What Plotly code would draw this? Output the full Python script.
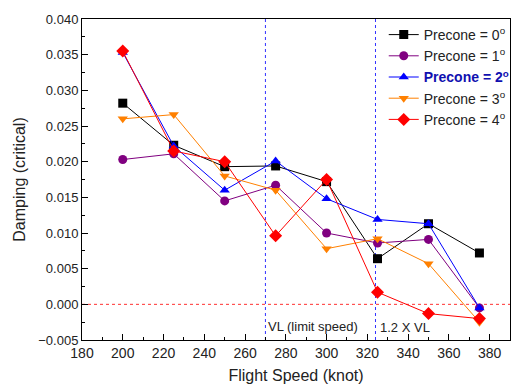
import plotly.graph_objects as go

speeds = [200, 225, 250, 275, 300, 325, 350, 375]
precone_0 = [0.0282, 0.0223, 0.0193, 0.0194, 0.0172, 0.0064, 0.0113, 0.0072]
precone_1 = [0.0203, 0.0211, 0.0145, 0.0167, 0.0100, 0.0086, 0.0091, -0.0005]
precone_2 = [0.0353, 0.0222, 0.0160, 0.0201, 0.0148, 0.0119, 0.0113, -0.0005]
precone_3 = [0.0260, 0.0266, 0.0180, 0.0160, 0.0078, 0.0092, 0.0057, -0.0025]
precone_4 = [0.0355, 0.0215, 0.0200, 0.0096, 0.0175, 0.0017, -0.0013, -0.0020]

vl = 270
vl12 = 324

series = [
    ("Precone = 0<sup>o</sup>", precone_0, "black", "square"),
    ("Precone = 1<sup>o</sup>", precone_1, "#800080", "circle"),
    ("<b><span style='color:#1010B0'>Precone = 2<sup>o</sup></span></b>", precone_2, "#0000FF", "triangle-up"),
    ("Precone = 3<sup>o</sup>", precone_3, "#FF8000", "triangle-down"),
    ("Precone = 4<sup>o</sup>", precone_4, "#FF0000", "diamond"),
]

fig = go.Figure()
for name, vals, color, sym in series:
    fig.add_trace(go.Scatter(
        x=speeds, y=vals, name=name, mode="lines+markers",
        line=dict(color=color, width=1),
        marker=dict(symbol=sym, size=9 if sym != "diamond" else 10, color=color),
    ))

fig.add_shape(type="line", x0=180, x1=390, y0=0, y1=0, xref="x", yref="y",
              line=dict(color="#FF3030", width=1, dash="dot"), layer="below")
for xv in [vl, vl12]:
    fig.add_shape(type="line", x0=xv, x1=xv, y0=-0.005, y1=0.040, xref="x", yref="y",
                  line=dict(color="#3333FF", width=1, dash="dot"), layer="below")

fig.add_annotation(x=vl, y=-0.0031, text="VL (limit speed)", xref="x", yref="y",
                   xanchor="left", yanchor="middle", showarrow=False, xshift=1,
                   font=dict(size=13, color="#222"))
fig.add_annotation(x=vl12, y=-0.0032, text="1.2 X VL", xref="x", yref="y",
                   xanchor="left", yanchor="middle", showarrow=False, xshift=3,
                   font=dict(size=13, color="#222"))

fig.update_layout(
    width=514, height=389,
    margin=dict(l=82, r=0, t=19, b=49),
    paper_bgcolor="white", plot_bgcolor="white",
    font=dict(family="Liberation Sans, Arial, sans-serif", color="#222"),
    showlegend=True,
    legend=dict(x=0.705, y=1.0, xanchor="left", yanchor="top",
                bgcolor="rgba(255,255,255,0)", font=dict(size=14),
                tracegroupgap=0, itemwidth=30),
    xaxis=dict(range=[180, 390], tickvals=list(range(180, 390, 20)),
               ticks="inside", ticklen=6, tickcolor="black",
               minor=dict(ticks="inside", ticklen=3, dtick=10, tickcolor="black"),
               showline=True, linecolor="black", linewidth=1, mirror=True,
               showgrid=False, zeroline=False, automargin=False,
               tickfont=dict(size=14),
               title=dict(text="Flight Speed (knot)", font=dict(size=16), standoff=10)),
    yaxis=dict(range=[-0.005, 0.040], tickvals=[-0.005 + 0.005 * i for i in range(10)],
               tickformat=".3f",
               ticks="inside", ticklen=6, tickcolor="black",
               minor=dict(ticks="inside", ticklen=3, dtick=0.0025, tickcolor="black"),
               showline=True, linecolor="black", linewidth=1, mirror=True,
               showgrid=False, zeroline=False, automargin=False,
               tickfont=dict(size=13),
               title=dict(text="Damping (critical)", font=dict(size=16), standoff=8)),
)

fig.write_html("out.html", config={"displayModeBar": False},
               post_script="document.body.style.margin='0';document.body.style.overflow='hidden';")
